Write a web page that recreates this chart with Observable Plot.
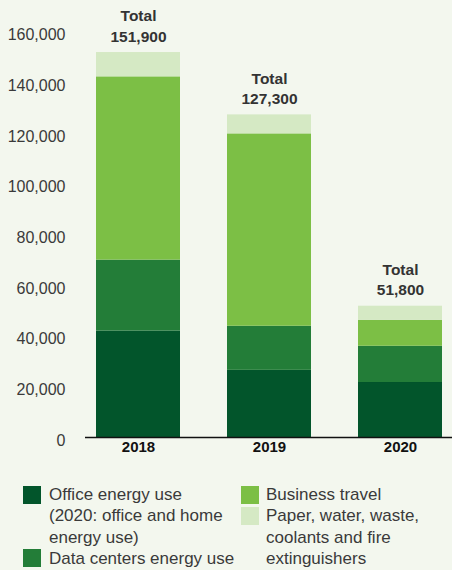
<!DOCTYPE html>
<html>
<head>
<meta charset="utf-8">
<script src="https://cdn.jsdelivr.net/npm/d3@7"></script>
<script src="https://cdn.jsdelivr.net/npm/@observablehq/plot@0.6"></script>
<style>
  html, body { margin: 0; padding: 0; background: #f3f7ee; }
  body { width: 452px; height: 570px; overflow: hidden; font-family: "Liberation Sans", Arial, Helvetica, sans-serif; color: #333; }
  #chart svg { display: block; }
  #legend { position: relative; height: 110px; font-size: 17px; line-height: 21.3px; color: #3a3a3a; }
  .col { position: absolute; top: 0; }
  .item { display: flex; align-items: flex-start; }
  .sw { width: 18px; height: 18px; flex: none; margin-top: 1.5px; }
</style>
</head>
<body>
<div id="chart"></div>
<div id="legend"></div>
<script>
const years = ["2018", "2019", "2020"];
const categories = ["Office energy use", "Data centers energy use", "Business travel", "Paper, water, waste, coolants and fire extinguishers"];
const legendLabels = ["Office energy use\n(2020: office and home\nenergy use)", "Data centers energy use", "Business travel", "Paper, water, waste,\ncoolants and fire\nextinguishers"];
const colors = ["#02552b", "#237d38", "#7cbf45", "#d5e9c4"];
const officeEnergy = [42000, 26500, 21700];
const dataCenters = [28000, 17400, 14300];
const businessTravel = [72300, 75900, 10200];
const paperEtc = [9600, 7500, 5600];
const totals = [151900, 127300, 51800];
const yTicks = [0, 20000, 40000, 60000, 80000, 100000, 120000, 140000, 160000];

const series = [officeEnergy, dataCenters, businessTravel, paperEtc];
const rows = [];
years.forEach((yr, i) => {
  categories.forEach((c, j) => rows.push({year: yr, category: c, value: series[j][i]}));
});
const totalRows = years.map((yr, i) => ({year: yr, total: totals[i]}));
const fmt = d3.format(",");

const chart = Plot.plot({
  width: 452,
  height: 460,
  marginLeft: 85,
  marginRight: 0,
  marginTop: 31.5,
  marginBottom: 23,
  style: {background: "transparent", fontFamily: "'Liberation Sans', Arial, Helvetica, sans-serif", color: "#333"},
  x: {domain: years, paddingInner: 0.36, paddingOuter: 0.08, label: null},
  y: {domain: [0, 160000], label: null},
  color: {domain: categories, range: colors},
  marks: [
    Plot.barY(rows, {x: "year", y: "value", fill: "category", order: categories}),
    Plot.ruleY([0], {stroke: "#111", strokeWidth: 1.3}),
    Plot.axisY({ticks: yTicks, tickSize: 0, tickPadding: 20, tickFormat: fmt, fontSize: 16, dy: 3, fill: "#3a3a3a", label: null}),
    Plot.axisX({tickSize: 0, tickPadding: 4, fontSize: 15, fontWeight: "bold", fill: "#111", label: null}),
    Plot.text(totalRows, {x: "year", y: "total", text: d => `Total\n${fmt(d.total)}`, lineAnchor: "bottom", dy: -11, fontSize: 15.5, fontWeight: "bold", fill: "#333", lineHeight: 1.3})
  ]
});
document.getElementById("chart").appendChild(chart);

const legend = document.getElementById("legend");
const cols = [{left: 23, gap: 8, items: [0, 1]}, {left: 241, gap: 7, items: [2, 3]}];
cols.forEach(c => {
  const col = document.createElement("div");
  col.className = "col";
  col.style.left = c.left + "px";
  c.items.forEach(k => {
    const it = document.createElement("div");
    it.className = "item";
    const sw = document.createElement("div");
    sw.className = "sw";
    sw.style.background = colors[k];
    sw.style.marginRight = c.gap + "px";
    const tx = document.createElement("div");
    tx.style.whiteSpace = "pre";
    tx.textContent = legendLabels[k];
    it.appendChild(sw);
    it.appendChild(tx);
    col.appendChild(it);
  });
  legend.appendChild(col);
});
legend.style.marginTop = (484 - 460) + "px";
</script>
</body>
</html>
